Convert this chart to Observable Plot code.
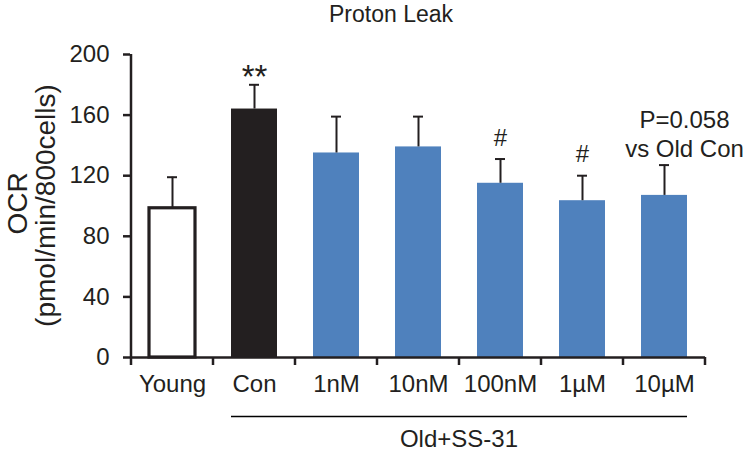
<!DOCTYPE html>
<html><head><meta charset="utf-8">
<script src="https://cdn.jsdelivr.net/npm/d3@7"></script>
<script src="https://cdn.jsdelivr.net/npm/@observablehq/plot@0.6"></script>
<style>
body{margin:0;background:#fff}
#chart svg{font-family:"Liberation Sans",Arial,sans-serif;}
</style>
</head><body><div id="chart"></div>
<script>
const title = "Proton Leak";
const categories = ["Young","Con","1nM","10nM","100nM","1µM","10µM"];
const groups = ["young","old","treated","treated","treated","treated","treated"];
const means = [98.5,164,135,139,115,103.5,107];
const errors = [20.5,16,24,20,16,16.5,20];
const significance = ["","**","","","#","#",""];
const yTicks = [0,40,80,120,160,200];
const yLabel = ["OCR","(pmol/min/800cells)"];
const groupLabel = "Old+SS-31";
const groupMembers = ["Con","1nM","10nM","100nM","1µM","10µM"];
const note = ["P=0.058","vs Old Con"];
const noteAt = "10µM";

const ink = "#231f20";
const colorOf = {young:"#ffffff", old:ink, treated:"#4f81bd"};
const data = categories.map((c,i)=>({cat:c, group:groups[i], mean:means[i], upper:means[i]+errors[i], sig:significance[i]}));
const noteRow = data.filter(d=>d.cat===noteAt);

const plot = Plot.plot({
  width:747, height:454,
  marginLeft:130, marginRight:42, marginTop:54, marginBottom:97,
  style:{fontSize:"24px", color:ink, background:"#fff", overflow:"visible"},
  x:{domain:categories, paddingInner:0.44, paddingOuter:0.22, tickSize:0, tickPadding:17, label:null},
  y:{domain:[0,200], ticks:yTicks, tickSize:7, tickPadding:14, label:null, tickFormat:d=>String(d)},
  color:{type:"identity"},
  marks:[
    Plot.barY(data.filter(d=>d.group!=="young"), {x:"cat", y:"mean", fill:d=>colorOf[d.group]}),
    Plot.barY(data.filter(d=>d.group==="young"), {x:"cat", y:"mean", fill:"#ffffff", stroke:ink, strokeWidth:3.2}),
    Plot.ruleX(data, {x:"cat", y1:"mean", y2:"upper", stroke:ink, strokeWidth:2}),
    Plot.tickY(data, {x:"cat", y:"upper", stroke:ink, strokeWidth:2, insetLeft:18, insetRight:18}),
    Plot.ruleY([0], {stroke:ink, strokeWidth:2.5}),
    Plot.text(data.filter(d=>d.sig==="**"), {x:"cat", y:"upper", text:"sig", fontSize:33, dy:-7, fill:ink}),
    Plot.text(data.filter(d=>d.sig==="#"), {x:"cat", y:"upper", text:"sig", fontSize:24, dy:-21, fill:ink}),
    Plot.text(noteRow, {x:"cat", y:"upper", text:()=>note.join("\n"), fontSize:24, lineHeight:1.2, lineAnchor:"bottom", dx:20, dy:-8, fill:ink}),
    Plot.text([title], {frameAnchor:"top", text:d=>d, fontSize:23, lineAnchor:"bottom", dy:-33, dx:-27, fill:ink})
  ]
});
document.getElementById("chart").appendChild(plot);

const svg = d3.select(plot);
svg.selectAll('[aria-label^="y-axis"] path, [aria-label^="y-axis"] line').attr("stroke-width",2.5).attr("stroke",ink);
const xs = plot.scale("x"), ys = plot.scale("y");
const bw = xs.bandwidth, step = xs.step || (xs.bandwidth/(1-0.44));
const gap = (step-bw)/2;
const y0 = ys.apply(0), yTop = ys.apply(200);
const xLeft = xs.apply(categories[0]) - gap;
const g = svg.append("g");
// y axis line
g.append("line").attr("x1",xLeft).attr("x2",xLeft).attr("y1",y0+1).attr("y2",yTop).attr("stroke",ink).attr("stroke-width",2.5);
// boundary ticks on x axis
const bounds = categories.map(c=>xs.apply(c)-gap).concat([xs.apply(categories[categories.length-1])+bw+gap]);
g.selectAll(".bt").data(bounds).join("line").attr("x1",d=>d).attr("x2",d=>d).attr("y1",y0).attr("y2",y0+8).attr("stroke",ink).attr("stroke-width",2.5);
// group bracket
const gx1 = xs.apply(groupMembers[0]), gx2 = xs.apply(groupMembers[groupMembers.length-1])+bw;
const by = Math.round(y0+59)+0.5;
g.append("line").attr("x1",gx1).attr("x2",gx2).attr("y1",by).attr("y2",by).attr("stroke","#000").attr("stroke-width",1.3);
g.append("text").attr("x",(gx1+gx2)/2).attr("y",y0+90)
  .attr("text-anchor","middle").attr("font-size",24).attr("fill",ink).text(groupLabel);
// y label
const yc = (y0+yTop)/2;
g.append("text").attr("transform",`translate(27,${yc-2}) rotate(-90)`).attr("text-anchor","middle").attr("font-size",28).attr("fill",ink).text(yLabel[0]);
g.append("text").attr("transform",`translate(55,${yc}) rotate(-90)`).attr("text-anchor","middle").attr("font-size",28).attr("fill",ink).text(yLabel[1]);
</script>
</body></html>
